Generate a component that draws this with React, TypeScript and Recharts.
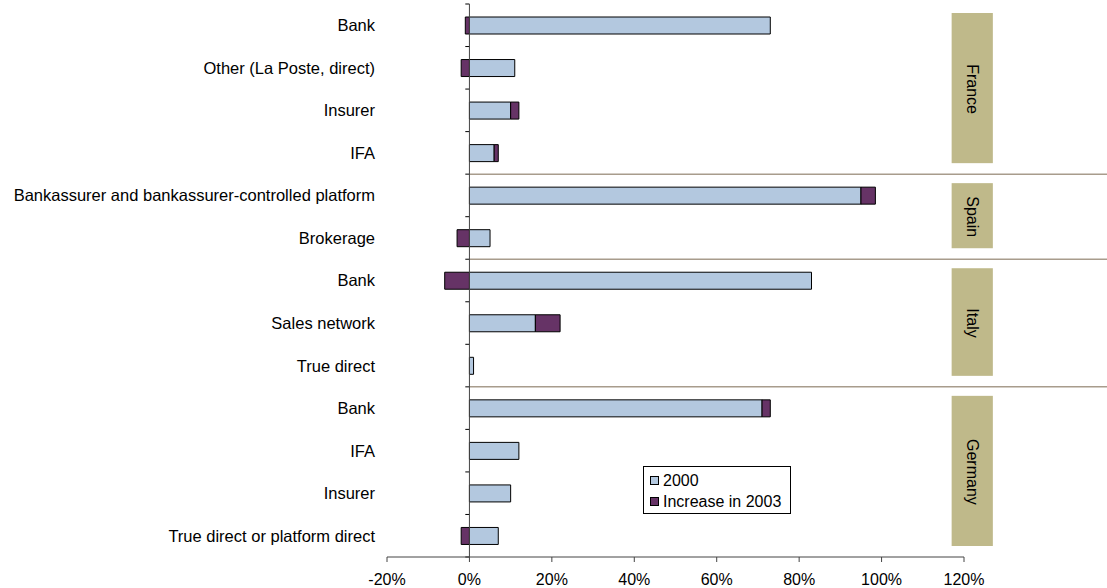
import React from 'react';
import {
  BarChart,
  Bar,
  XAxis,
  YAxis,
  Legend,
  ReferenceLine,
  ReferenceArea,
} from 'recharts';

const CHANNELS = [
  'Bank',
  'Other (La Poste, direct)',
  'Insurer',
  'IFA',
  'Bankassurer and bankassurer-controlled platform',
  'Brokerage',
  'Bank',
  'Sales network',
  'True direct',
  'Bank',
  'IFA',
  'Insurer',
  'True direct or platform direct',
];
const ROW_COUNTRY = [
  'France', 'France', 'France', 'France',
  'Spain', 'Spain',
  'Italy', 'Italy', 'Italy',
  'Germany', 'Germany', 'Germany', 'Germany',
];
const SHARE_2000 = [73, 11, 10, 6, 95, 5, 83, 16, 1, 71, 12, 10, 7];
const INCREASE_2003 = [-1, -2, 2, 1, 3.5, -3, -6, 6, 0, 2, 0, 0, -2];
const COUNTRIES = ['France', 'Spain', 'Italy', 'Germany'];
const X_TICKS = [-20, 0, 20, 40, 60, 80, 100, 120];

const COLOR_2000 = '#b3c8df';
const COLOR_INC = '#663366';
const TAN = '#bfb98a';
const SEP = '#a89c8c';
const FONT = 'Arial, "Liberation Sans", sans-serif';

const data = CHANNELS.map((name, i) => ({
  id: `${ROW_COUNTRY[i]}-${i}`,
  name,
  y2000: SHARE_2000[i],
  inc: INCREASE_2003[i],
}));

const rowsOf = (country: string) => data.filter((d, i) => ROW_COUNTRY[i] === country);

const CategoryTick = (props: any) => {
  const { x, y, payload } = props;
  const row = data.find((d) => d.id === payload.value);
  return (
    <text x={x} y={y} dy="0.36em" textAnchor="end" fontSize={16.5} fill="#000" fontFamily={FONT}>
      {row ? row.name : ''}
    </text>
  );
};

const CountryBox = (props: any) => {
  const { x, y, width, height } = props;
  return <rect x={x} y={y + 9} width={width} height={height - 20} fill={TAN} />;
};

const LegendBox = (props: any) => {
  const items = props.payload || [];
  return (
    <div
      style={{
        border: '1px solid #000',
        background: '#fff',
        width: 148,
        height: 48,
        boxSizing: 'border-box',
        padding: '3px 0 0 6px',
        fontFamily: FONT,
        fontSize: 16,
        color: '#000',
      }}
    >
      {items.map((it: any) => (
        <div key={it.value} style={{ display: 'flex', alignItems: 'center', height: 21 }}>
          <span
            style={{
              display: 'inline-block',
              width: 9,
              height: 9,
              boxSizing: 'border-box',
              border: '1px solid #000',
              background: it.color,
              marginRight: 4,
            }}
          />
          {it.value}
        </div>
      ))}
    </div>
  );
};

export default function App() {
  const last = data[data.length - 1].id;
  return (
    <div style={{ fontFamily: FONT, width: 1107, height: 588 }}>
      <style>{'body{margin:0}'}</style>
      <BarChart
        width={1107}
        height={588}
        data={data}
        layout="vertical"
        stackOffset="sign"
        barSize={17}
        margin={{ top: 4, right: 143, bottom: 0, left: 0 }}
      >
        <XAxis
          type="number"
          domain={[-20, 120]}
          ticks={X_TICKS}
          tickFormatter={(v) => `${v}%`}
          height={31}
          tickSize={5}
          tickMargin={12}
          stroke="#444"
          tick={{ fill: '#000', fontSize: 16 }}
          interval={0}
        />
        <YAxis
          type="category"
          dataKey="id"
          width={387}
          axisLine={false}
          tickLine={false}
          tickSize={0}
          tickMargin={12}
          interval={0}
          tick={<CategoryTick />}
        />
        {COUNTRIES.map((c) => {
          const rows = rowsOf(c);
          return (
            <ReferenceArea
              key={c}
              y1={rows[0].id}
              y2={rows[rows.length - 1].id}
              x1={117}
              x2={127}
              ifOverflow="visible"
              shape={<CountryBox />}
              label={{ value: c, angle: 90, position: 'center', fill: '#000', fontSize: 16 }}
            />
          );
        })}
        {COUNTRIES.slice(1).map((c) => (
          <ReferenceLine
            key={`sep-${c}`}
            segment={[
              { x: 0, y: rowsOf(c)[0].id },
              { x: 155, y: rowsOf(c)[0].id },
            ]}
            position="start"
            ifOverflow="visible"
            stroke={SEP}
            strokeWidth={1.5}
          />
        ))}
        {data.map((d) => (
          <ReferenceLine
            key={`tick-${d.id}`}
            segment={[
              { x: -1, y: d.id },
              { x: 0, y: d.id },
            ]}
            position="start"
            ifOverflow="visible"
            stroke="#000"
          />
        ))}
        <ReferenceLine
          segment={[
            { x: -1, y: last },
            { x: 0, y: last },
          ]}
          position="end"
          ifOverflow="visible"
          stroke="#000"
        />
        <Bar dataKey="y2000" name="2000" stackId="a" fill={COLOR_2000} stroke="#000" strokeWidth={1} isAnimationActive={false} />
        <Bar dataKey="inc" name="Increase in 2003" stackId="a" fill={COLOR_INC} stroke="#000" strokeWidth={1} isAnimationActive={false} />
        <ReferenceLine x={0} stroke="#444" ifOverflow="visible" />
        <Legend
          layout="horizontal"
          verticalAlign="middle"
          align="center"
          wrapperStyle={{ left: 643, top: 466, width: 148, height: 48 }}
          content={<LegendBox />}
        />
      </BarChart>
    </div>
  );
}
